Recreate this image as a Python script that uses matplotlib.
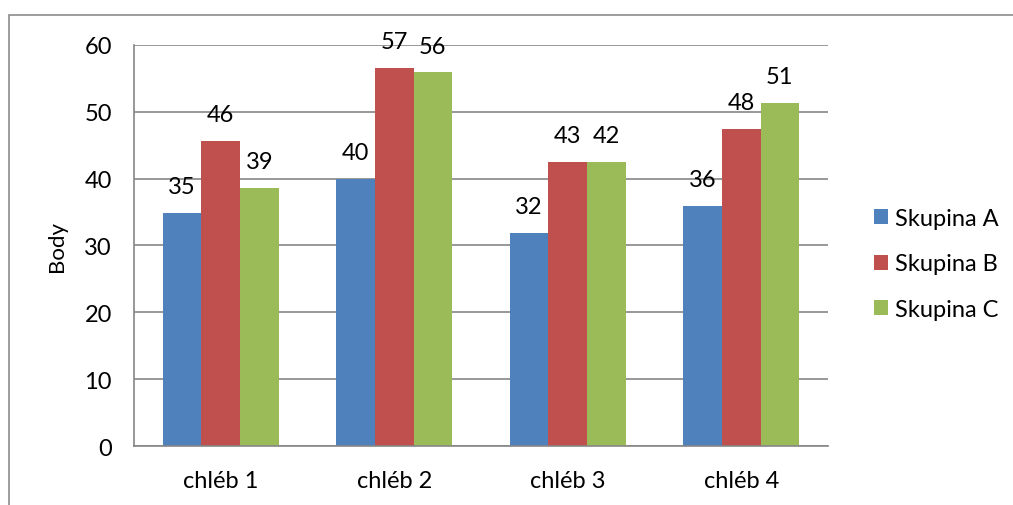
import numpy as np
import matplotlib
matplotlib.use("Agg")
import matplotlib.pyplot as plt  # noqa: E402
from matplotlib.patches import Rectangle  # noqa: E402

categories = ["chléb 1", "chléb 2", "chléb 3", "chléb 4"]
series_names = ["Skupina A", "Skupina B", "Skupina C"]
skupina_a = [34.9, 40.0, 31.9, 35.9]
skupina_b = [45.7, 56.5, 42.5, 47.4]
skupina_c = [38.6, 55.9, 42.45, 51.3]
labels_a = ["35", "40", "32", "36"]
labels_b = ["46", "57", "43", "48"]
labels_c = ["39", "56", "42", "51"]
colors = ["#4F81BD", "#C0504D", "#9BBB59"]

plt.rcParams["font.family"] = ["Lato", "DejaVu Sans"]

fig = plt.figure(figsize=(10.13, 5.06), dpi=100)
ax = fig.add_axes([0.1323, 0.1166, 0.6851, 0.7925])

# outer chart frame like the Excel chart area
fig.patches.append(Rectangle((8.5 / 1013, -0.1), 1.2, 1 - 15.5 / 506 + 0.1,
                             transform=fig.transFigure, fill=False,
                             edgecolor="#8c8c8c", linewidth=1.2))

x = np.arange(len(categories))
w = 0.2225
for i, (vals, labs) in enumerate([(skupina_a, labels_a), (skupina_b, labels_b),
                                  (skupina_c, labels_c)]):
    pos = x + (i - 1) * w
    ax.bar(pos, vals, width=w, color=colors[i], label=series_names[i], zorder=2)
    for px, v, t in zip(pos, vals, labs):
        ax.annotate(t, (px, v), xytext=(0, 19), textcoords="offset points",
                    ha="center", va="center", fontsize=17)

ax.set_xlim(-0.5, 3.5)
ax.set_ylim(0, 60)
ax.set_yticks(range(0, 61, 10))
ax.set_xticks(x)
ax.set_xticklabels(categories)
ax.tick_params(axis="both", length=0, labelsize=17)
ax.tick_params(axis="y", pad=16)
ax.tick_params(axis="x", pad=17)
ax.grid(axis="y", color="#868686", linewidth=1.2, zorder=0)
ax.set_axisbelow(True)
for s in ["top", "right"]:
    ax.spines[s].set_visible(False)
for s in ["left", "bottom"]:
    ax.spines[s].set_color("#868686")
    ax.spines[s].set_linewidth(1.2)
ax.set_ylabel("Body", fontsize=16)
ax.yaxis.set_label_coords(-0.097, 0.5)

ax.legend(loc="center left", bbox_to_anchor=(1.035, 0.454), frameon=False,
          fontsize=17, handlelength=0.6, handleheight=0.6, handletextpad=0.3,
          labelspacing=1.05)

fig.savefig("out.png", dpi=100)
